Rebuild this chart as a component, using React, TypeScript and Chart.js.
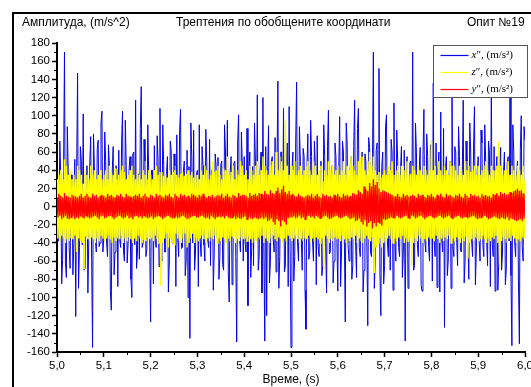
import React, { useEffect, useRef } from 'react';
import { Chart, registerables } from 'chart.js';

Chart.register(...registerables);

// sampling: time of first sample and sample interval (s)
const T_START = 5.0;
const T_STEP = 0.002;

const X_MIN = 5.0;
const X_MAX = 6.0;
const Y_MIN = -160;
const Y_MAX = 180;

const HEADER_LEFT = 'Амплитуда, (m/s^2)';
const HEADER_CENTER = 'Трептения по обобщените координати';
const HEADER_RIGHT = 'Опит №19';
const X_TITLE = 'Време, (s)';

const SERIES_NAMES = ['x', 'z', 'y'];
const SERIES_UNIT = '″, (m/s²)';
const SERIES_COLORS = ['#0505e0', '#ffff00', '#ff0000'];

// x'' (blue)
const X_ACC = [
  20,-38,-30,72,35,-85,-58,40,170,-62,-78,88,40,-45,-68,35,30,-75,-40,52,-121,40,147,-90,-45,66,50,-42,102,-70,-68,35,45,-95,-35,48,77,-58,-155,80,40,-36,-50,64,73,-44,-40,92,105,-50,
  -35,82,50,-40,-55,68,45,-92,-114,38,66,-75,-50,45,40,-88,62,-36,-45,70,105,-48,-60,95,45,-62,-40,40,55,-80,-100,58,60,-42,117,-68,-50,36,-58,86,132,-45,-40,74,50,-55,-47,90,35,-38,
  -127,40,40,-85,67,-38,-45,78,50,-66,108,-42,-60,90,45,-50,-50,36,55,-94,-62,72,62,-40,-40,58,45,-88,79,-35,-55,84,107,-46,-45,38,50,-76,-60,62,-100,44,-145,92,55,-40,84,-70,-50,36,
  40,-88,90,-38,-55,66,45,-42,-60,85,50,-36,-45,74,-65,40,40,-92,-50,58,45,-35,54,-80,-55,46,50,-64,-70,90,60,-40,95,-72,-105,38,55,-86,-60,48,50,-55,-149,70,101,-36,-50,82,45,-60,
  55,-40,-50,86,-109,38,60,-78,-45,44,-65,92,50,-36,123,-70,-55,40,60,-95,120,-45,-148,66,-120,38,89,-84,-60,50,55,-36,-50,76,-72,42,138,-90,-55,60,60,-38,108,-72,-65,46,70,-88,110,-40,
  -155,38,60,-82,-55,70,137,-40,-60,88,50,-36,-70,64,55,-92,-135,42,80,-58,-50,95,55,-38,-60,72,45,-86,78,-44,-55,36,50,-76,-65,90,55,-40,-95,66,106,-52,-50,38,45,-84,-60,70,55,-36,
  -93,40,99,-88,-50,72,60,-36,-127,92,70,-42,-60,38,55,-80,-65,66,117,-40,-78,86,108,-45,-55,36,60,-94,-70,58,50,-38,-131,76,65,-50,-55,40,170,-90,-60,62,70,-36,152,-74,-120,44,60,-85,
  -65,88,101,-40,-55,36,-70,74,60,-92,114,-38,-60,84,50,-45,-55,40,66,-78,-50,62,-148,36,55,-90,-60,48,50,-36,170,-70,-65,92,60,-42,-55,38,65,-86,-93,56,107,-38,-50,80,55,-44,-60,68,
  50,-82,136,-38,-55,70,-89,40,60,-94,104,-36,-50,86,-133,42,55,-76,-60,38,50,-90,135,-44,-55,66,60,-36,-65,88,55,-48,-50,36,117,-84,-60,72,50,-40,-80,92,60,-38,-55,64,110,-86,-50,40,
  55,-38,-60,84,70,-42,-55,90,50,-36,-65,72,60,-88,140,-40,-55,66,-93,38,55,-92,-60,44,65,-70,-50,36,60,-86,-70,48,55,-38,130,-76,-153,90,60,-40,-55,36,50,-82,-151,62,100,-44,-60,88,73,
];

// z'' (yellow)
const Z_ACC = [
  30,-35,35,-38,40,-32,30,-35,52,-40,45,-36,35,-38,40,-34,30,-36,35,-32,30,-50,45,-35,40,-38,35,-40,25,-69,40,-32,35,-36,30,-38,45,-34,35,-36,40,-40,30,-35,35,-38,40,-32,30,-35,
  35,-38,40,-35,30,-32,45,-36,38,-40,35,-34,42,-38,30,-35,35,-36,40,-32,45,-40,38,-35,30,-38,35,-34,40,-36,45,-40,35,-35,30,-38,40,-32,35,-35,30,-40,40,-36,35,-38,30,-34,40,-36,
  35,-35,30,-38,40,-32,45,-36,35,-40,38,-87,38,-40,34,-35,36,-30,32,-45,40,-35,35,-40,38,-42,40,-30,35,-35,32,-38,36,-40,38,-35,34,-30,36,-45,40,-40,35,-35,38,-30,32,-40,35,-35,
  35,-38,30,-35,40,-32,35,-36,45,-40,40,-35,30,-38,35,-34,50,-36,38,-32,40,-40,45,-35,35,-38,30,-34,42,-36,40,-40,55,-35,35,-38,38,-32,45,-35,30,-40,40,-36,35,-38,50,-34,45,-36,
  35,-35,40,-38,30,-32,45,-36,40,-40,35,-35,45,-38,50,-34,35,-36,40,-32,55,-40,45,-35,40,-38,35,-40,45,-35,50,-32,35,-36,60,-38,40,-34,55,-36,50,-40,40,-35,95,-38,45,-32,35,-35,
  45,-38,40,-35,50,-32,35,-36,40,-40,45,-35,35,-38,40,-34,45,-36,50,-32,40,-40,35,-35,50,-38,45,-34,35,-36,40,-40,45,-35,28,-69,40,-32,35,-35,50,-40,40,-36,45,-38,35,-34,40,-36,
  45,-35,35,-38,40,-32,50,-36,35,-40,45,-35,40,-38,55,-34,45,-36,40,-32,35,-40,50,-35,55,-38,55,-40,40,-35,35,-32,50,-36,60,-38,45,-34,55,-73,40,-45,35,-40,38,-35,32,-45,35,-40,
  40,-38,35,-35,45,-32,40,-36,50,-40,35,-35,40,-38,45,-34,35,-36,45,-32,45,-40,40,-35,50,-38,35,-34,36,-65,45,-40,40,-35,35,-38,45,-32,40,-35,35,-40,45,-36,40,-38,35,-34,40,-36,
  73,-35,40,-38,45,-32,35,-36,50,-40,40,-35,35,-38,45,-34,40,-36,35,-32,50,-40,45,-35,45,-38,40,-34,35,-36,45,-40,40,-35,35,-38,50,-32,40,-57,45,-40,38,-36,40,-38,45,-34,35,-36,
  45,-38,35,-35,40,-32,45,-36,50,-40,40,-35,35,-38,45,-34,40,-36,40,-32,45,-40,72,-69,45,-38,35,-34,40,-36,40,-40,50,-35,35,-38,45,-32,40,-35,35,-40,45,-36,40,-38,35,-34,45,-36,30,
];

// y'' (red)
const Y_ACC = [
  10,-12,14,-10,12,-14,10,-12,15,-10,12,-13,11,-14,10,-12,13,-10,12,-14,11,-12,10,-13,12,-11,14,-12,10,-13,12,-10,14,-12,11,-13,10,-12,14,-11,12,-10,13,-12,10,-14,12,-11,13,-10,
  12,-13,10,-12,14,-11,12,-10,13,-12,11,-14,10,-12,13,-11,12,-10,14,-12,11,-13,10,-12,14,-10,12,-13,11,-12,10,-14,12,-11,13,-10,12,-12,14,-11,10,-13,12,-10,14,-12,11,-13,10,-12,
  13,-11,12,-14,10,-12,14,-11,12,-10,13,-12,11,-14,10,-12,13,-11,12,-10,14,-12,11,-13,10,-12,14,-11,12,-13,10,-12,14,-11,12,-10,13,-12,11,-14,12,-13,10,-12,14,-11,13,-10,12,-12,
  10,-12,13,-11,12,-10,14,-12,11,-13,10,-12,12,-14,11,-10,13,-12,10,-14,12,-11,13,-10,12,-12,14,-11,10,-13,12,-10,14,-12,11,-13,10,-12,13,-11,12,-14,10,-12,15,-13,12,-14,13,-12,
  13,-11,12,-14,10,-12,15,-13,12,-14,13,-12,14,-13,12,-14,15,-13,14,-12,13,-14,17,-12,14,-16,13,-15,18,-13,15,-17,14,-20,17,-14,21,-16,15,-22,19,-15,23,-17,16,-20,14,-13,17,-12,
  13,-12,14,-11,12,-13,11,-12,14,-10,12,-13,11,-12,10,-14,12,-11,13,-10,12,-12,14,-11,10,-13,12,-10,14,-12,11,-13,10,-12,14,-11,12,-10,13,-12,11,-14,12,-13,10,-12,13,-11,12,-10,
  14,-12,11,-13,10,-12,14,-11,12,-10,13,-12,11,-14,12,-13,15,-12,14,-16,13,-15,18,-13,16,-17,14,-20,22,-15,19,-22,17,-18,26,-16,22,-24,30,-18,24,-22,27,-17,20,-19,16,-21,18,-14,
  17,-15,16,-14,15,-13,14,-12,13,-12,11,-13,12,-10,14,-12,11,-13,10,-12,14,-11,12,-10,13,-12,11,-14,12,-10,13,-11,12,-13,10,-12,14,-11,12,-10,13,-12,11,-14,10,-12,13,-11,12,-10,
  14,-12,11,-13,10,-12,13,-11,12,-10,14,-12,11,-13,10,-12,14,-11,12,-10,13,-12,11,-14,10,-12,13,-11,12,-10,14,-12,11,-13,10,-12,14,-11,12,-13,10,-12,14,-11,12,-10,13,-12,11,-14,
  12,-13,10,-12,14,-11,12,-10,13,-12,11,-14,12,-13,10,-12,14,-11,13,-12,15,-13,12,-14,16,-12,14,-13,15,-14,13,-12,14,-15,16,-13,15,-14,17,-15,18,-16,20,-15,17,-14,18,-16,15,-13,14,
];

const toPoints = (vals: number[]) =>
  vals.map((v, i) => ({ x: T_START + i * T_STEP, y: v }));

const SANS = '"Liberation Sans", Arial, sans-serif';
const SERIF = '"Liberation Serif", "Times New Roman", serif';

const decorPlugin = {
  id: 'decor',
  afterDatasetsDraw(chart: any) {
    const ctx = chart.ctx;
    // legend box
    const bx = 433.5, by = 45.5, bw = 94, bh = 52;
    ctx.save();
    ctx.fillStyle = '#ffffff';
    ctx.fillRect(bx, by, bw, bh);
    ctx.strokeStyle = '#555555';
    ctx.lineWidth = 1;
    ctx.strokeRect(bx, by, bw, bh);
    [0, 1, 2].forEach((r) => {
      const yy = by + 10 + r * 17;
      ctx.strokeStyle = SERIES_COLORS[r];
      ctx.lineWidth = 1.2;
      ctx.beginPath();
      ctx.moveTo(bx + 7, yy);
      ctx.lineTo(bx + 35, yy);
      ctx.stroke();
      ctx.fillStyle = '#000';
      ctx.textBaseline = 'middle';
      ctx.textAlign = 'left';
      ctx.font = 'italic 11px ' + SERIF;
      const nm = SERIES_NAMES[r];
      ctx.fillText(nm, bx + 38, yy);
      const w = ctx.measureText(nm).width;
      ctx.font = '11px ' + SERIF;
      ctx.fillText(SERIES_UNIT, bx + 38 + w, yy);
    });
    ctx.restore();
  },
  afterDraw(chart: any) {
    const ctx = chart.ctx;
    const xs = chart.scales.x;
    const ys = chart.scales.y;
    ctx.save();
    // outer frame
    ctx.strokeStyle = '#000';
    ctx.lineWidth = 2;
    ctx.beginPath();
    ctx.moveTo(13, 400);
    ctx.lineTo(13, 13);
    ctx.lineTo(540, 13);
    ctx.stroke();
    // minor ticks
    ctx.lineWidth = 1;
    ctx.beginPath();
    for (let v = Y_MIN + 10; v < Y_MAX; v += 20) {
      const py = Math.round(ys.getPixelForValue(v)) + 0.5;
      ctx.moveTo(xs.left - 3, py);
      ctx.lineTo(xs.left, py);
    }
    for (let k = 0; k < 10; k++) {
      const v = X_MIN + 0.05 + k * 0.1;
      const px = Math.round(xs.getPixelForValue(v)) + 0.5;
      ctx.moveTo(px, ys.bottom);
      ctx.lineTo(px, ys.bottom + 3);
    }
    ctx.stroke();
    // header texts
    ctx.fillStyle = '#000';
    ctx.font = '12px ' + SANS;
    ctx.textBaseline = 'middle';
    ctx.textAlign = 'left';
    ctx.fillText(HEADER_LEFT, 22, 23);
    ctx.fillText(HEADER_CENTER, 176, 23);
    ctx.fillText(HEADER_RIGHT, 467, 23);
    ctx.textAlign = 'center';
    ctx.fillText(X_TITLE, (xs.left + xs.right) / 2, 380);
    ctx.restore();
  },
};

export default function App() {
  const ref = useRef<HTMLCanvasElement | null>(null);
  useEffect(() => {
    if (!ref.current) return;
    const tickFont = { family: SANS, size: 11.5 };
    const chart = new Chart(ref.current, {
      type: 'line',
      data: {
        datasets: [
          { label: 'y', data: toPoints(Y_ACC), borderColor: SERIES_COLORS[2], borderWidth: 1.3, pointRadius: 0, tension: 0 },
          { label: 'z', data: toPoints(Z_ACC), borderColor: SERIES_COLORS[1], borderWidth: 1.5, pointRadius: 0, tension: 0 },
          { label: 'x', data: toPoints(X_ACC), borderColor: SERIES_COLORS[0], borderWidth: 1, pointRadius: 0, tension: 0 },
        ],
      },
      options: {
        responsive: false,
        animation: false,
        events: [],
        layout: { padding: { left: 0, right: 6, top: 43, bottom: 0 } },
        plugins: { legend: { display: false }, tooltip: { enabled: false }, title: { display: false } },
        scales: {
          x: {
            type: 'linear',
            min: X_MIN,
            max: X_MAX,
            grid: { display: true, drawOnChartArea: false, drawTicks: true, tickLength: 5, tickColor: '#000', tickWidth: 1.5 },
            border: { display: true, color: '#000', width: 2 },
            ticks: {
              stepSize: 0.1,
              autoSkip: false,
              maxRotation: 0,
              color: '#000',
              font: tickFont,
              padding: 2,
              callback: (v: any) => Number(v).toFixed(1).replace('.', ','),
            },
            afterFit: (s: any) => {
              s.height = 35;
              s.paddingLeft = 0;
              s.paddingRight = 0;
            },
          },
          y: {
            type: 'linear',
            min: Y_MIN,
            max: Y_MAX,
            grid: { display: true, drawOnChartArea: false, drawTicks: true, tickLength: 5, tickColor: '#000', tickWidth: 1.5 },
            border: { display: true, color: '#000', width: 2 },
            ticks: {
              stepSize: 20,
              autoSkip: false,
              color: '#000',
              font: tickFont,
              padding: 2,
              callback: (v: any) => String(v),
            },
            afterFit: (s: any) => {
              s.width = 57;
              s.paddingTop = 0;
              s.paddingBottom = 0;
            },
          },
        },
      },
      plugins: [decorPlugin],
    } as any);
    return () => chart.destroy();
  }, []);
  return (
    <div style={{ position: 'absolute', left: 0, top: 0, width: 531, height: 387, background: '#fff', overflow: 'hidden' }}>
      <canvas ref={ref} width={531} height={387} style={{ display: 'block' }} />
    </div>
  );
}
